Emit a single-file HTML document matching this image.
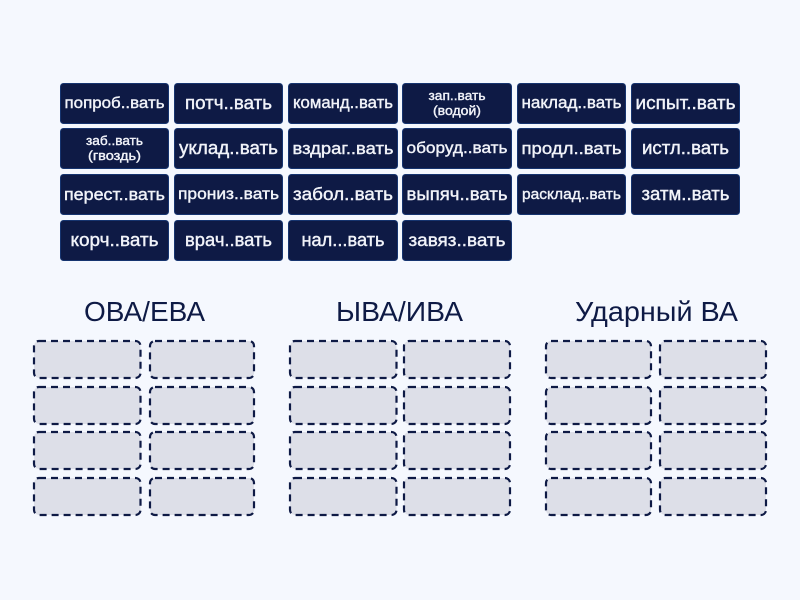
<!DOCTYPE html>
<html><head><meta charset="utf-8"><style>
html,body{margin:0;padding:0;background:#f5f8fe}
svg{display:block}
.b{fill:#0e1a45;stroke:#16346f;stroke-width:1}
.t{font-family:"Liberation Sans","DejaVu Sans",sans-serif;fill:#f1f3f9;text-anchor:middle;stroke:#f1f3f9;stroke-width:.4}
.h{font-family:"Liberation Sans","DejaVu Sans",sans-serif;fill:#0e1a45;font-size:28px;text-anchor:middle}
.d{fill:#dddfe8;stroke:#0e1a45;stroke-width:2.2;stroke-dasharray:7 5}
</style></head><body>
<svg width="800" height="600" viewBox="0 0 800 600" xmlns="http://www.w3.org/2000/svg">
<rect width="800" height="600" fill="#f5f8fe"/>
<rect class="b" x="60.5" y="83.5" width="108" height="40" rx="3"/>
<rect class="b" x="174.5" y="83.5" width="108" height="40" rx="3"/>
<rect class="b" x="288.5" y="83.5" width="109" height="40" rx="3"/>
<rect class="b" x="402.5" y="83.5" width="109" height="40" rx="3"/>
<rect class="b" x="517.5" y="83.5" width="108" height="40" rx="3"/>
<rect class="b" x="631.5" y="83.5" width="108" height="40" rx="3"/>
<rect class="b" x="60.5" y="128.5" width="108" height="40" rx="3"/>
<rect class="b" x="174.5" y="128.5" width="108" height="40" rx="3"/>
<rect class="b" x="288.5" y="128.5" width="109" height="40" rx="3"/>
<rect class="b" x="402.5" y="128.5" width="109" height="40" rx="3"/>
<rect class="b" x="517.5" y="128.5" width="108" height="40" rx="3"/>
<rect class="b" x="631.5" y="128.5" width="108" height="40" rx="3"/>
<rect class="b" x="60.5" y="174.5" width="108" height="40" rx="3"/>
<rect class="b" x="174.5" y="174.5" width="108" height="40" rx="3"/>
<rect class="b" x="288.5" y="174.5" width="109" height="40" rx="3"/>
<rect class="b" x="402.5" y="174.5" width="109" height="40" rx="3"/>
<rect class="b" x="517.5" y="174.5" width="108" height="40" rx="3"/>
<rect class="b" x="631.5" y="174.5" width="108" height="40" rx="3"/>
<rect class="b" x="60.5" y="220.5" width="108" height="40" rx="3"/>
<rect class="b" x="174.5" y="220.5" width="108" height="40" rx="3"/>
<rect class="b" x="288.5" y="220.5" width="109" height="40" rx="3"/>
<rect class="b" x="402.5" y="220.5" width="109" height="40" rx="3"/>

<text class="t" x="114.5" y="108" font-size="16" textLength="100" lengthAdjust="spacingAndGlyphs">попроб..вать</text>
<text class="t" x="228.5" y="109" font-size="18" textLength="87" lengthAdjust="spacingAndGlyphs">потч..вать</text>
<text class="t" x="343" y="108" font-size="16.5" textLength="100" lengthAdjust="spacingAndGlyphs">команд..вать</text>
<text class="t" x="457" y="100" font-size="13" textLength="57" lengthAdjust="spacingAndGlyphs">зап..вать</text>
<text class="t" x="457" y="115" font-size="13" textLength="48" lengthAdjust="spacingAndGlyphs">(водой)</text>
<text class="t" x="571.5" y="108" font-size="16.5" textLength="100" lengthAdjust="spacingAndGlyphs">наклад..вать</text>
<text class="t" x="685.5" y="109" font-size="18" textLength="100" lengthAdjust="spacingAndGlyphs">испыт..вать</text>

<text class="t" x="114.5" y="145" font-size="13" textLength="57" lengthAdjust="spacingAndGlyphs">заб..вать</text>
<text class="t" x="114.5" y="160" font-size="13" textLength="53" lengthAdjust="spacingAndGlyphs">(гвоздь)</text>
<text class="t" x="228.5" y="154" font-size="18" textLength="99" lengthAdjust="spacingAndGlyphs">уклад..вать</text>
<text class="t" x="343" y="154" font-size="16.5" textLength="101" lengthAdjust="spacingAndGlyphs">вздраг..вать</text>
<text class="t" x="457" y="153" font-size="16" textLength="101" lengthAdjust="spacingAndGlyphs">оборуд..вать</text>
<text class="t" x="571.5" y="154" font-size="17" textLength="100" lengthAdjust="spacingAndGlyphs">продл..вать</text>
<text class="t" x="685.5" y="154" font-size="18" textLength="87" lengthAdjust="spacingAndGlyphs">истл..вать</text>

<text class="t" x="114.5" y="200" font-size="16.5" textLength="101" lengthAdjust="spacingAndGlyphs">перест..вать</text>
<text class="t" x="228.5" y="199" font-size="16" textLength="101" lengthAdjust="spacingAndGlyphs">прониз..вать</text>
<text class="t" x="343" y="200" font-size="17.5" textLength="100" lengthAdjust="spacingAndGlyphs">забол..вать</text>
<text class="t" x="457" y="200" font-size="17.5" textLength="101" lengthAdjust="spacingAndGlyphs">выпяч..вать</text>
<text class="t" x="571.5" y="199" font-size="15" textLength="99" lengthAdjust="spacingAndGlyphs">расклад..вать</text>
<text class="t" x="685.5" y="200" font-size="18" textLength="88" lengthAdjust="spacingAndGlyphs">затм..вать</text>

<text class="t" x="114.5" y="246" font-size="18" textLength="88" lengthAdjust="spacingAndGlyphs">корч..вать</text>
<text class="t" x="228.5" y="246" font-size="18" textLength="87" lengthAdjust="spacingAndGlyphs">врач..вать</text>
<text class="t" x="343" y="246" font-size="18" textLength="83" lengthAdjust="spacingAndGlyphs">нал...вать</text>
<text class="t" x="457" y="246" font-size="17.5" textLength="97" lengthAdjust="spacingAndGlyphs">завяз..вать</text>

<text class="h" x="144.5" y="321" textLength="121" lengthAdjust="spacingAndGlyphs">ОВА/ЕВА</text>
<text class="h" x="399.5" y="321" textLength="127" lengthAdjust="spacingAndGlyphs">ЫВА/ИВА</text>
<text class="h" x="656.5" y="321" textLength="163" lengthAdjust="spacingAndGlyphs">Ударный ВА</text>

<rect class="d" x="34" y="341" width="106.5" height="37" rx="5"/>
<rect class="d" x="150" y="341" width="104" height="37" rx="5"/>
<rect class="d" x="34" y="387" width="106.5" height="37" rx="5"/>
<rect class="d" x="150" y="387" width="104" height="37" rx="5"/>
<rect class="d" x="34" y="432" width="106.5" height="37" rx="5"/>
<rect class="d" x="150" y="432" width="104" height="37" rx="5"/>
<rect class="d" x="34" y="478" width="106.5" height="37" rx="5"/>
<rect class="d" x="150" y="478" width="104" height="37" rx="5"/>

<rect class="d" x="290" y="341" width="106.5" height="37" rx="5"/>
<rect class="d" x="404" y="341" width="106" height="37" rx="5"/>
<rect class="d" x="290" y="387" width="106.5" height="37" rx="5"/>
<rect class="d" x="404" y="387" width="106" height="37" rx="5"/>
<rect class="d" x="290" y="432" width="106.5" height="37" rx="5"/>
<rect class="d" x="404" y="432" width="106" height="37" rx="5"/>
<rect class="d" x="290" y="478" width="106.5" height="37" rx="5"/>
<rect class="d" x="404" y="478" width="106" height="37" rx="5"/>

<rect class="d" x="546" y="341" width="105" height="37" rx="5"/>
<rect class="d" x="660" y="341" width="106" height="37" rx="5"/>
<rect class="d" x="546" y="387" width="105" height="37" rx="5"/>
<rect class="d" x="660" y="387" width="106" height="37" rx="5"/>
<rect class="d" x="546" y="432" width="105" height="37" rx="5"/>
<rect class="d" x="660" y="432" width="106" height="37" rx="5"/>
<rect class="d" x="546" y="478" width="105" height="37" rx="5"/>
<rect class="d" x="660" y="478" width="106" height="37" rx="5"/>
</svg>
</body></html>
